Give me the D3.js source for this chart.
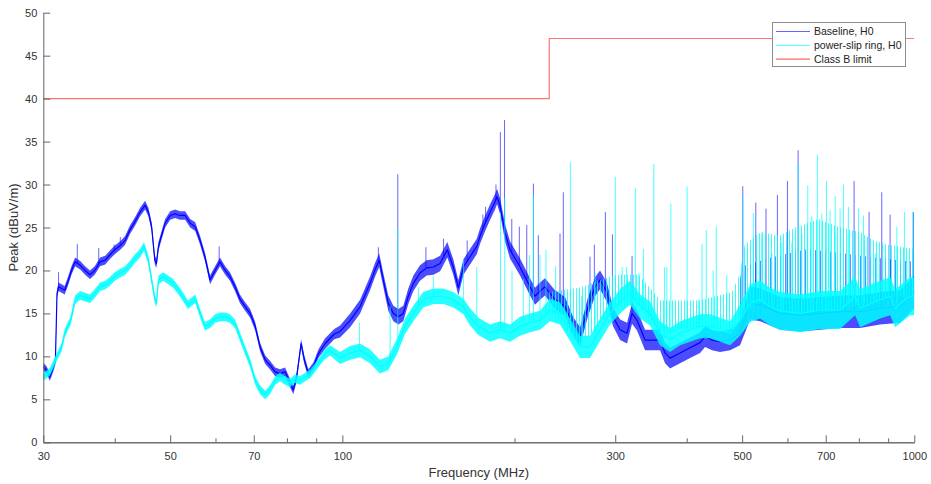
<!DOCTYPE html>
<html>
<head>
<meta charset="utf-8">
<script src="https://cdn.jsdelivr.net/npm/d3@7"></script>
<style>
  body { margin: 0; background: #fff; }
  svg { display: block; font-family: "Liberation Sans", Arial, Helvetica, sans-serif; }
</style>
</head>
<body>
<svg id="chart" width="931" height="484"></svg>
<script>
// ---------- data ----------
// [frequency MHz, level dBuV/m, noise half-width dB]
const baseline = [
  [30,8.8,.45],[30.4,8.4,.45],[30.8,7.6,.45],[31.2,8.6,.45],[31.5,9.5,.45],[31.7,17.3,.5],[31.9,18.1,.5],
  [32.3,17.9,.5],[32.7,17.7,.5],[33.2,18.9,.5],[33.6,20.0,.5],[34.1,21.0,.5],[34.8,20.6,.5],[35.5,20.0,.5],
  [36.2,19.5,.5],[36.9,20.0,.5],[37.7,21.0,.5],[38.5,21.2,.5],[39.2,21.8,.5],[40.0,22.4,.5],[40.9,22.9,.5],
  [41.7,23.5,.5],[42.5,24.7,.5],[43.4,25.7,.5],[44.3,26.8,.5],[45.2,27.6,.5],[45.8,26.8,.5],[46.4,25.1,.5],
  [47.0,21.2,.5],[47.3,20.8,.5],[47.7,22.8,.5],[48.3,24.1,.5],[49.0,25.5,.5],[50.0,26.4,.5],[51.0,26.6,.5],
  [52.0,26.4,.5],[53.1,26.4,.5],[54.2,25.5,.5],[55.3,25.1,.5],[56.4,23.5,.5],[57.5,21.6,.5],[58.7,18.9,.5],
  [59.9,20.0,.5],[61.1,21.0,.5],[62.4,20.0,.5],[63.6,19.3,.5],[64.9,18.1,.5],[66.2,16.7,.5],[67.6,15.8,.5],
  [69.0,15.0,.5],[70.4,13.5,.5],[71.8,11.1,.5],[73.3,9.6,.5],[74.7,9.0,.5],[76.3,8.2,.5],[77.8,8.0,.5],
  [79.4,8.2,.5],[81.0,6.9,.5],[82.1,6.1,.5],[83.2,7.6,.5],[84.7,11.5,.5],[85.8,9.6,.5],[87.2,8.0,.5],
  [89.0,8.8,.5],[90.8,10.3,.5],[93.3,11.5,.6],[96.8,12.6,.6],[99.1,12.9,.7],[103.2,14.2,.8],[107.4,15.8,.8],
  [111.8,18.5,.8],[114.1,20.1,.8],[116.0,21.2,.8],[117.9,18.9,.8],[120.3,16.2,.9],[122.8,15.0,.9],[125.3,14.6,.9],
  [127.8,15.0,.9],[130.4,17.0,.9],[133.1,18.5,.9],[136.7,19.7,.9],[140.4,20.3,.9],[144.3,20.4,.9],[148.2,20.8,.9],
  [152.6,22.4,.9],[156.3,20.4,.9],[159.5,18.0,.9],[162.8,20.4,.9],[167.2,21.6,.9],[171.8,22.8,.9],[174.1,24.0,.9],
  [177.7,25.5,.9],[181.3,26.8,.9],[184.9,28.0,.9],[186.4,28.6,.9],[188.7,27.5,.9],[192.5,24.4,1],[196.4,22.4,1],
  [204.5,20.4,1],[212.9,18.1,1],[217.2,17.0,1],[221.6,17.6,1],[226.1,18.1,1],[235.4,16.6,1.1],
  [245.1,15.8,1.1],[253.1,13.5,1.1],[260.4,12.3,1.1],[268.9,15.8,1.1],[276.6,18.1,1.1],[282.2,18.9,1.1],
  [290.3,17.4,1.1],[297.4,14.6,1.1],[305.9,13.1,1.2],[314.6,12.7,1.2],[321.0,15.0,1.2],[327.5,14.2,1.2],
  [338.3,11.9,1.2],[347.9,11.9,1.2],[359.3,11.9,1.2],[366.6,10.4,1.2],[374.1,9.8,1.2],[389.5,10.4,1.2],
  [405.5,11.0,1.2],[422.1,11.6,1.2],[430.7,12.3,1.2],[443.0,11.9,1.2],[457.5,11.7,1.2],[476.3,11.9,1.2],
  [495.9,12.7,1.4],[516.4,16.2,1.9],[537.5,16.0,1.9],[582.6,15.0,1.9],[631.6,14.8,1.9],[684.6,15.0,1.9],
  [741.8,15.2,1.9],[804,15.2,1.9],[837,15.4,1.9],[871.6,15.6,1.9],[944.5,15.8,1.9],[1000,17.5,1.9]
];

const slipRing = [
  [30,7.6,.45],[30.8,8.2,.45],[31.4,9.4,.45],[32.3,11.1,.5],[32.7,12.7,.5],[33.5,14.2,.5],[34.1,16.6,.5],
  [34.8,17.1,.5],[35.5,16.9,.5],[36.2,16.7,.5],[36.9,17.3,.5],[37.7,18.1,.5],[38.5,18.3,.5],[39.2,18.7,.5],
  [40.0,19.3,.5],[40.9,19.7,.5],[41.7,20.0,.5],[42.5,20.6,.5],[43.4,21.4,.5],[44.3,22.0,.5],[45.0,22.8,.5],
  [45.8,21.2,.5],[46.4,18.9,.5],[47.0,16.7,.5],[47.3,16.2,.5],[47.7,18.9,.5],[48.6,19.3,.5],[49.6,18.9,.5],
  [50.6,18.5,.5],[51.7,17.7,.5],[52.7,16.9,.5],[53.7,16.0,.5],[55.3,16.7,.5],[56.4,15.0,.5],[57.5,13.5,.5],
  [58.7,13.8,.5],[59.9,14.4,.5],[61.1,14.6,.5],[62.4,14.6,.5],[63.6,14.4,.5],[64.9,13.8,.5],[66.2,12.3,.5],
  [67.6,10.7,.5],[69.0,9.2,.5],[70.4,7.2,.5],[71.8,6.1,.5],[73.3,5.5,.5],[74.7,6.1,.5],[76.3,7.2,.5],
  [77.8,7.6,.5],[79.4,7.2,.5],[81.0,6.9,.5],[82.6,7.4,.5],[84.3,7.2,.5],[86.1,7.6,.5],[88.0,8.0,.5],
  [89.8,8.8,.5],[91.7,9.6,.5],[93.3,10.3,.6],[95.2,10.7,.6],[99.1,9.8,.7],[103.2,10.4,.8],[107.4,10.7,.8],
  [111.8,10.0,.8],[116.3,8.8,.8],[120.3,9.2,.8],[124.5,11.1,.9],[128.7,13.5,.9],[133.1,15.0,.9],[138.5,16.6,.9],
  [144.3,17.0,.9],[150.2,17.0,.9],[156.3,16.6,.9],[162.8,15.8,.9],[167.2,14.6,1],[172.9,13.5,1],
  [181.3,12.7,1],[188.7,13.1,1],[196.4,12.7,1],[204.5,13.5,1.1],[212.9,13.9,1.1],[221.6,14.2,1.1],
  [230.7,15.4,1.3],[240.2,15.0,1.3],[250.1,13.1,1.3],[260.4,11.1,1.3],[271.0,11.1,1.3],[282.2,13.1,1.3],
  [293.8,15.0,1.3],[305.9,16.4,1.4],[318.4,17.4,1.4],[331.5,15.8,1.4],[345.1,15.0,1.4],[359.3,12.7,1.4],
  [374.1,11.9,1.4],[389.5,12.7,1.4],[405.5,13.1,1.4],[422.1,13.5,1.4],[439.5,13.5,1.4],[457.5,13.1,1.4],
  [476.3,12.7,1.4],[495.9,14.2,1.8],[516.4,16.2,2.2],[537.5,16.6,2.2],[559.6,15.8,2.2],[582.6,15.3,2.2],
  [631.6,15.0,2.2],[684.6,15.4,2.2],[741.8,15.4,2.2],[788,17.0,2.2],[804,15.6,2.2],[871.6,16.6,2.2],
  [907.4,17.0,2.2],[925.8,15.6,2.2],[983.4,17.0,2.2],[1000,17.0,2.2]
];

// narrow-band peaks: [frequency MHz, peak dBuV/m]
const baselineSpikes = [
  [31.9,19.8],[34.4,23.1],[37.5,22.6],[39.9,23.0],[40.9,23.9],[60.9,22.8],[115.6,22.7],[125.0,31.2],
  [140.0,22.7],[150.3,23.7],[165.3,23.5],[176.1,26.5],[178.0,27.4],[185.6,30.0],[188.9,36.1],[192.1,37.5],
  [197.8,26.0],[203.9,25.1],[210.1,25.3],[215.8,30.1],[220.1,24.1],[240.2,24.3],[243.4,29.1],[271.0,21.6],
  [275.8,23.0],[288.3,26.8],[296.6,24.2],[321.0,21.7],[501.3,29.8],[528.3,27.9],[550.5,27.2],[576.3,28.8],
  [600,30.4],[626.4,34.0],[784.8,30.4],[833.6,26.8],[877.2,29.1],[907.2,26.5],[996.3,26.8]
];
const slipRingSpikes = [
  [107.1,13.9],[121.2,15.8],[125.0,24.9],[135.8,18.1],[144.2,19.3],[162.8,21.2],[171.8,20.4],[189.0,26.7],
  [192.3,28.4],[198.0,20.0],[207.2,19.0],[212.5,21.8],[215.8,28.6],[221.6,21.8],[227.0,22.4],[236.0,20.5],
  [250.4,32.6],[262.0,17.0],[276.6,19.7],[300.1,30.9],[308.5,20.4],[314.0,20.4],[325.3,29.6],[330.0,19.7],
  [336.0,22.5],[350.4,32.4],[366.0,20.4],[369.3,20.4],[375.3,27.8],[400.6,29.8],[420.0,16.6],[425.4,23.1],
  [432.8,24.7],[445.0,20.0],[450.6,25.1],[470.0,19.5],[501.3,28.5],[523.0,26.7],[541.0,24.3],[563.5,22.0],
  [586.6,23.2],[610.8,23.2],[626.4,32.5],[636.0,24.3],[651.3,29.9],[661.9,26.3],[676.8,33.5],[689.1,26.6],
  [702.1,30.4],[712.5,27.0],[727.2,28.7],[741.8,27.2],[751.8,30.0],[766.9,27.4],[798.6,27.2],[814.8,26.4],
  [854.2,22.0],[932.2,25.1],[961,26.8],[993.9,26.8]
];

// upper edge of the dense spike "grass": [frequency MHz, dBuV/m]
const baselineGrass = [[490,17],[500,20.5],[560,21.5],[650,22.5],[750,22],[850,21.5],[1000,21]];
const slipRingGrass = [
  [230,17.5],[260,18],[300,19.5],[330,19.5],[360,16.5],[420,16.5],[480,17.5],[495,19.5],[505,23],
  [540,24.5],[580,24],[620,25],[680,26],[740,25],[800,24.5],[850,23.5],[900,23],[1000,22.5]
];

const limitFreq  = [30, 230, 230, 1000];
const limitLevel = [40, 40, 47, 47];

const xMajorTicks = [30, 50, 70, 100, 300, 500, 700, 1000];
const xMinorTicks = [40, 60, 80, 90, 200, 400, 600, 800, 900];
const yTicks = [0, 5, 10, 15, 20, 25, 30, 35, 40, 45, 50];

const seriesNames = ['Baseline, H0', 'power-slip ring, H0', 'Class B limit'];
const seriesColors = ['#0000ff', '#00ffff', '#ff0000'];

// ---------- layout ----------
const svg = d3.select('#chart');
const L = 43.3, R = 914.3, T = 12.7, B = 442.3;

const x = d3.scaleLog().domain([30, 1000]).range([L, R]);
const y = d3.scaleLinear().domain([0, 50]).range([B, T]);

const defs = svg.append('defs');
defs.append('clipPath').attr('id', 'plot')
  .append('rect').attr('x', L).attr('y', T).attr('width', R - L).attr('height', B - T);

// stripe patterns for the dense spike grass
function stripes(id, color, w, op) {
  const p = defs.append('pattern').attr('id', id)
    .attr('patternUnits', 'userSpaceOnUse').attr('width', w).attr('height', 8);
  p.append('rect').attr('width', 1).attr('height', 8).attr('fill', color).attr('opacity', op);
}
stripes('grassBase', seriesColors[0], 5, 0.5);
stripes('grassSlip', seriesColors[1], 3, 0.8);

const plot = svg.append('g').attr('clip-path', 'url(#plot)');

function drawSeries(data, spikes, grass, color, grassId, bandOp, spikeOp) {
  const g = plot.append('g');
  const levelAt = d3.scaleLog().domain(data.map(d => d[0])).range(data.map(d => d[1]));

  // grass: from the trace level up to its envelope
  g.append('path')
    .datum(grass)
    .attr('fill', `url(#${grassId})`)
    .attr('d', d3.area()
      .x(d => x(d[0]))
      .y0(d => y(levelAt(d[0])))
      .y1(d => y(d[1])));

  // peaks
  g.selectAll('line.spike')
    .data(spikes)
    .join('line')
    .attr('class', 'spike')
    .attr('x1', d => x(d[0])).attr('x2', d => x(d[0]))
    .attr('y1', d => y(levelAt(d[0])))
    .attr('y2', d => y(d[1]))
    .attr('stroke', color)
    .attr('stroke-opacity', spikeOp)
    .attr('stroke-width', 1);

  // noise band
  g.append('path')
    .datum(data)
    .attr('fill', color)
    .attr('fill-opacity', bandOp)
    .attr('d', d3.area()
      .x(d => x(d[0]))
      .y0(d => y(d[1] - d[2]))
      .y1(d => y(d[1] + d[2])));

  // centre trace
  g.append('path')
    .datum(data)
    .attr('fill', 'none')
    .attr('stroke', color)
    .attr('stroke-width', 1.2)
    .attr('stroke-linejoin', 'round')
    .attr('d', d3.line().x(d => x(d[0])).y(d => y(d[1])));
}

drawSeries(baseline, baselineSpikes, baselineGrass, seriesColors[0], 'grassBase', 0.7, 0.6);
drawSeries(slipRing, slipRingSpikes, slipRingGrass, seriesColors[1], 'grassSlip', 0.85, 0.7);

// limit line
plot.append('path')
  .datum(limitFreq.map((f, i) => [f, limitLevel[i]]))
  .attr('fill', 'none')
  .attr('stroke', seriesColors[2])
  .attr('stroke-opacity', 0.55)
  .attr('stroke-width', 1.2)
  .attr('d', d3.line().x(d => x(d[0])).y(d => y(d[1])));

// ---------- axes ----------
const axisColor = '#666';
const labelColor = '#333';

function styleAxis(g) {
  g.select('.domain').attr('stroke', axisColor);
  g.selectAll('.tick line').attr('stroke', axisColor);
  g.selectAll('.tick text').attr('fill', labelColor).style('font-size', '11px')
    .style('font-family', '"Liberation Sans", Arial, Helvetica, sans-serif');
}

svg.append('g')
  .attr('transform', `translate(0,${B})`)
  .call(d3.axisBottom(x).tickValues(xMinorTicks).tickSize(-4).tickSizeOuter(0).tickFormat(''))
  .call(styleAxis);

svg.append('g')
  .attr('transform', `translate(0,${B})`)
  .call(d3.axisBottom(x).tickValues(xMajorTicks).tickSize(-7).tickSizeOuter(0)
    .tickPadding(9.5).tickFormat(d3.format('d')))
  .call(styleAxis);

svg.append('g')
  .attr('transform', `translate(${L},0)`)
  .call(d3.axisLeft(y).tickValues(yTicks).tickSize(-7).tickSizeOuter(0).tickPadding(6))
  .call(styleAxis);

svg.append('text')
  .attr('x', (L + R) / 2).attr('y', 476.5)
  .attr('text-anchor', 'middle')
  .attr('fill', labelColor)
  .style('font-size', '13px')
  .text('Frequency (MHz)');

svg.append('text')
  .attr('transform', `translate(18,${(T + B) / 2}) rotate(-90)`)
  .attr('text-anchor', 'middle')
  .attr('fill', labelColor)
  .style('font-size', '13px')
  .text('Peak (dBuV/m)');

// ---------- legend ----------
const lg = svg.append('g').attr('transform', 'translate(772.5,22.5)');
lg.append('rect').attr('width', 133).attr('height', 44)
  .attr('fill', '#fff').attr('stroke', '#8c8c8c').attr('stroke-width', 1);

const rows = lg.selectAll('g.row')
  .data(seriesNames.map((n, i) => ({ name: n, color: seriesColors[i] })))
  .join('g')
  .attr('class', 'row')
  .attr('transform', (d, i) => `translate(0,${9 + i * 13.8})`);

rows.append('line')
  .attr('x1', 3.5).attr('x2', 37.5)
  .attr('stroke', d => d.color)
  .attr('stroke-opacity', 0.6)
  .attr('stroke-width', 1.2);

rows.append('text')
  .attr('x', 41.5).attr('dy', '0.35em')
  .attr('fill', '#222')
  .style('font-size', '10.5px')
  .text(d => d.name);
</script>
</body>
</html>
